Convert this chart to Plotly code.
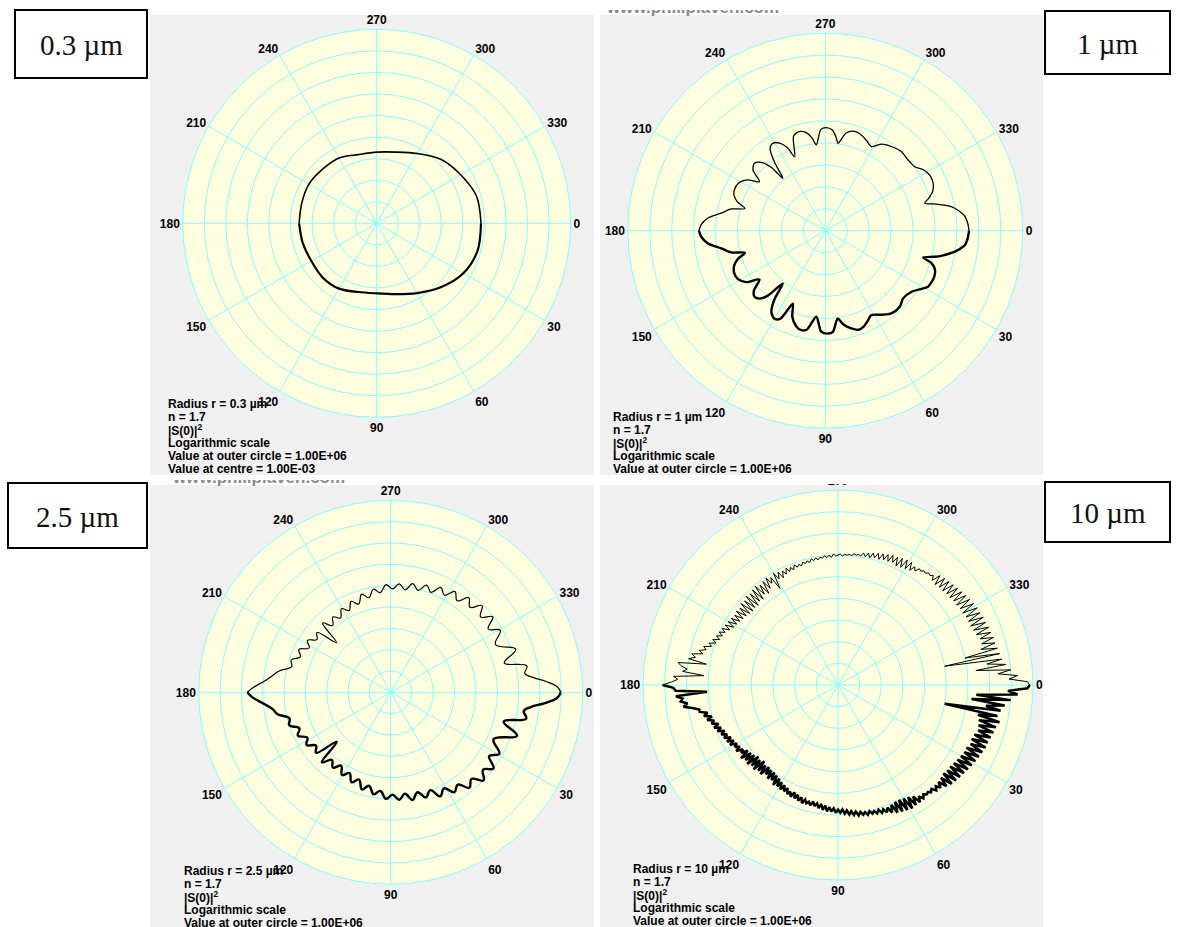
import plotly.graph_objects as go

W, H = 1179, 927

# ---------------------------------------------------------------------------
# Data: log10 |S(theta)|^2, radial scale from 1E-03 (centre) to 1E+06 (outer).
# Perpendicular half runs 0 -> 180 deg through 90 (lower half),
# parallel half runs 180 -> 360 deg through 270 (upper half).
# ---------------------------------------------------------------------------
ANGLE_TICKS = [0, 30, 60, 90, 120, 150, 180, 210, 240, 270, 300, 330]
RING_TICKS = [-3, -2, -1, 0, 1, 2, 3, 4, 5, 6]

# r = 0.3 um
R03_PERP_THETA = [0, 15, 30, 45, 60, 75, 90, 105, 120, 135, 150, 165, 180]
R03_PERP_LOG = [1.84, 1.85, 1.64, 1.2, 0.74, 0.4, 0.25, 0.3, 0.5, 0.55, 0.5, 0.55, 0.6]
R03_PAR_THETA = [180, 195, 210, 225, 240, 255, 270, 285, 300, 315, 330, 345, 360]
R03_PAR_LOG = [0.6, 0.6, 0.63, 0.55, 0.5, 0.3, 0.3, 0.42, 0.74, 1.2, 1.5, 1.8, 1.84]

# r = 1 um
R1_PERP_THETA = [0, 3, 6, 8, 10, 12, 13.4, 15.3, 17, 19.5, 23, 26, 28.6, 31.5, 35, 41,
                 45.6, 51.4, 56, 61.4, 65, 68, 71.5, 75, 79, 82, 85.7, 88.5, 92.3, 96,
                 100.5, 103.6, 107, 111, 114, 117, 120, 123.5, 126.5, 128.8, 131.5, 134,
                 137, 140, 143.5, 147, 151, 155, 159, 162, 164.6, 167, 170.4, 173.8,
                 177.2, 180]
R1_PERP_LOG = [3.55, 3.5, 3.39, 3.15, 2.84, 2.45, 2.12, 1.62, 2.06, 2.3, 2.39, 2.38,
               2.33, 2.1, 1.83, 1.7, 1.85, 1.82, 1.62, 1.38, 1.55, 1.7, 1.76, 1.61,
               1.35, 1.05, 1.62, 1.69, 1.6, 0.94, 1.58, 1.66, 1.55, 1.2, 0.64, 1.5,
               1.63, 1.45, 0.9, 0.09, 0.95, 1.3, 1.41, 1.25, 0.73, 1.3, 1.55, 1.58,
               1.45, 1.2, 0.8, 1.4, 1.81, 2.38, 2.66, 2.76]
R1_PAR_THETA = [180, 182.8, 186.2, 189.6, 193, 195.4, 198, 201, 204, 209, 213, 216.7,
                220, 223.6, 227, 229.5, 231, 233.5, 236, 239, 242.5, 245.5, 247.5,
                251.5, 255.5, 259, 262, 264, 267.5, 270.5, 274, 276.5, 278.3, 282,
                286.5, 291, 295, 298.7, 303, 308, 314, 319.5, 324.4, 328, 330.8, 333.5,
                336.3, 340, 342.5, 344.6, 346.5, 349.2, 351.5, 354, 357, 360]
R1_PAR_LOG = [2.76, 2.66, 2.38, 1.81, 1.4, 0.8, 1.2, 1.45, 1.54, 1.5, 1.25, 0.74,
              1.3, 1.46, 1.25, 0.8, 0.07, 0.9, 1.5, 1.65, 1.5, 1.15, 0.65,
              1.55, 1.67, 1.55, 1.25, 0.93, 1.62, 1.7, 1.6, 1.3, 1.03, 1.55,
              1.72, 1.65, 1.5, 1.37, 1.7, 1.87, 2.0, 1.96, 2.01, 2.25, 2.36, 2.4,
              2.37, 2.2, 1.95, 1.7, 2.2, 2.85, 3.15, 3.39, 3.5, 3.55]

# r = 2.5 um
R25_PERP_THETA = [0, 2, 4, 6, 8, 11, 14.5, 19, 24.5, 29.5, 33, 36.5, 40, 43.5, 47, 50.5,
                  54, 57.5, 61, 64.5, 68, 71.5, 75, 78.5, 82, 85.5, 89, 92.5, 96, 99.5,
                  103, 106.5, 110, 113.5, 117, 120.5, 124, 127.5, 131, 134.5, 137.5, 141,
                  144.5, 148, 151.5, 155, 158.5, 162, 165.5, 169, 172, 175, 178, 180]
R25_PERP_LOG = [4.97, 4.8, 4.25, 3.6, 3.3, 3.47, 2.47, 3.26, 2.3, 2.85, 2.5, 3.0, 2.65,
                3.0, 2.55, 2.8, 2.35, 2.55, 2.15, 2.4, 1.95, 2.2, 1.85, 2.15, 1.8, 2.05,
                1.8, 2.0, 1.65, 1.85, 1.5, 1.75, 1.35, 1.6, 1.25, 1.5, 1.15, 1.45, 1.2,
                1.6, 0.43, 1.5, 1.3, 1.65, 1.45, 1.8, 1.6, 2.0, 1.9, 2.4, 2.6, 3.0, 3.5,
                3.72]
R25_PAR_THETA = [180, 182, 185, 188, 191, 194.5, 198, 201.5, 205, 208.5, 212, 215.5, 219,
                 222.5, 225.5, 229, 232.5, 236, 239.5, 243, 246.5, 250, 253.5, 257,
                 260.5, 264, 267.5, 271, 274.5, 278, 281.5, 285, 288.5, 292, 295.5, 299,
                 302.5, 306, 309.5, 313, 316.5, 320, 323.5, 327, 330.5, 335.5, 341,
                 345.5, 349, 352, 354, 356, 358, 360]
R25_PAR_LOG = [3.72, 3.45, 2.95, 2.6, 2.3, 1.8, 1.9, 1.55, 1.75, 1.35, 1.6, 1.25, 1.45,
               0.45, 1.55, 1.15, 1.45, 1.2, 1.55, 1.3, 1.65, 1.4, 1.8, 1.55, 1.9, 1.7,
               2.05, 1.85, 2.1, 1.85, 2.2, 1.95, 2.3, 2.05, 2.45, 2.2, 2.6, 2.3, 2.75,
               2.45, 2.9, 2.5, 2.95, 2.45, 2.9, 2.4, 3.2, 2.5, 3.5, 3.35, 3.7, 4.3, 4.8,
               4.97]

# r = 10 um, one value per degree
R10_PERP_THETA = list(range(0, 181))
R10_PERP_LOG = [
    5.85, 5.75, 4.85, 5.3, 3.4, 5.0, 3.2, 4.75, 3.9, 4.6,
    2.0, 4.5, 3.6, 4.65, 3.7, 4.55, 3.75, 4.5, 3.8, 4.45,
    3.7, 4.4, 3.65, 4.4, 3.7, 4.35, 3.6, 4.3, 3.6, 4.25,
    3.55, 4.2, 3.5, 4.15, 3.45, 4.1, 3.4, 4.05, 3.4, 4.0,
    3.35, 3.95, 3.4, 3.85, 3.45, 3.7, 3.5, 3.65, 3.45, 3.55,
    3.45, 3.5, 3.4, 3.55, 3.35, 3.6, 3.2, 3.6, 3.1, 3.65,
    3.05, 3.6, 3.0, 3.55, 3.0, 3.5, 3.05, 3.4, 3.1, 3.3,
    3.1, 3.25, 3.05, 3.2, 3.05, 3.15, 3.0, 3.15, 3.0, 3.1,
    2.95, 3.1, 2.9, 3.05, 2.85, 3.0, 2.8, 2.95, 2.75, 2.9,
    2.75, 2.9, 2.7, 2.85, 2.65, 2.85, 2.6, 2.8, 2.55, 2.75,
    2.55, 2.7, 2.5, 2.7, 2.55, 2.65, 2.5, 2.7, 2.45, 2.65,
    2.4, 2.6, 2.35, 2.6, 2.4, 2.55, 2.3, 2.5, 2.25, 2.5,
    2.2, 2.45, 2.1, 2.5, 2.05, 2.35, 2.0, 2.4, 2.0, 2.3,
    1.95, 2.45, 2.0, 2.4, 1.9, 2.5, 2.0, 2.45, 1.95, 2.55,
    2.05, 2.5, 2.1, 2.6, 2.15, 2.45, 2.3, 2.6, 2.35, 2.55,
    2.4, 2.7, 2.45, 2.75, 2.5, 2.8, 2.6, 2.85, 2.65, 2.95,
    2.75, 3.05, 2.8, 3.1, 2.95, 3.25, 3.0, 3.35, 3.15, 3.5,
    3.5, 3.8, 4.2, 4.0, 4.3, 4.2, 4.5, 3.05, 4.5, 4.6,
    5.1,
]
R10_PAR_THETA = list(range(180, 361))
R10_PAR_LOG = [
    5.1, 4.7, 4.4, 4.6, 3.2, 4.2, 4.0, 4.3, 4.45, 3.15,
    4.0, 3.7, 3.9, 3.4, 3.6, 3.3, 3.45, 3.1, 3.25, 2.95,
    3.15, 2.85, 3.05, 2.8, 3.0, 2.75, 2.95, 2.6, 2.9, 2.5,
    2.85, 2.45, 2.8, 2.4, 2.75, 2.35, 2.8, 2.3, 2.75, 2.25,
    2.85, 2.2, 2.8, 2.25, 2.9, 2.2, 2.85, 2.3, 2.9, 2.25,
    2.95, 2.4, 2.85, 2.3, 2.9, 2.45, 2.95, 2.6, 2.85, 2.2,
    2.95, 2.6, 2.9, 2.55, 2.85, 2.65, 2.9, 2.7, 2.85, 2.7,
    2.9, 2.75, 2.85, 2.75, 2.9, 2.8, 2.9, 2.8, 2.95, 2.85,
    2.95, 2.85, 2.95, 2.9, 3.0, 2.9, 3.0, 2.9, 3.05, 2.95,
    3.0, 3.05, 2.95, 3.05, 3.0, 3.05, 3.0, 3.1, 3.05, 3.1,
    3.05, 3.2, 3.05, 3.25, 3.05, 3.3, 3.1, 3.35, 3.1, 3.4,
    3.15, 3.45, 3.15, 3.5, 3.2, 3.5, 3.1, 3.55, 3.15, 3.6,
    3.2, 3.6, 3.25, 3.5, 3.35, 3.55, 3.5, 3.6, 3.55, 3.65,
    3.6, 3.7, 3.5, 3.9, 3.45, 3.95, 3.5, 4.0, 3.5, 4.05,
    3.55, 4.1, 3.55, 4.15, 3.6, 4.2, 3.6, 4.25, 3.65, 4.3,
    3.65, 4.35, 3.7, 4.35, 3.7, 4.4, 3.7, 4.4, 3.75, 4.45,
    3.8, 4.45, 3.9, 4.5, 3.9, 4.5, 3.8, 4.55, 3.0, 4.6,
    2.0, 4.65, 3.95, 4.8, 3.4, 5.0, 4.4, 5.3, 4.9, 5.75,
    5.85,
]

SIZE_LABELS = ["0.3 \u00b5m", "1 \u00b5m", "2.5 \u00b5m", "10 \u00b5m"]
RADIUS_TEXT = ["0.3", "1", "2.5", "10"]
REFRACTIVE_INDEX = "1.7"
OUTER_VALUE = "1.00E+06"
CENTRE_VALUE = "1.00E-03"
SITE = "www.philiplaven.com"

# ---------------------------------------------------------------------------
# Page geometry (pixels, origin top-left)
# ---------------------------------------------------------------------------
GREY = "#F0F0F0"
DISC = "#FFFFE0"
GRID = "#80FFFF"

panels = [
    dict(cx=376.7, cy=223.3, R=194.0, bg=(150, 15, 594, 475), info=(166, 469), centre=True,
         box=(15, 10, 147, 78), perp=(R03_PERP_THETA, R03_PERP_LOG),
         par=(R03_PAR_THETA, R03_PAR_LOG), shape="spline", smooth=0.9, wl=2.2, wu=1.6),
    dict(cx=825.3, cy=230.7, R=197.5, bg=(600, 15, 1043, 475), info=(611, 469), centre=False,
         box=(1045, 11, 1170, 74), perp=(R1_PERP_THETA, R1_PERP_LOG),
         par=(R1_PAR_THETA, R1_PAR_LOG), shape="spline", smooth=0.8, wl=2.4, wu=1.3),
    dict(cx=390.7, cy=692.3, R=192.0, bg=(150, 485, 594, 927), info=(182, 923), centre=False,
         box=(8, 483, 147, 548), perp=(R25_PERP_THETA, R25_PERP_LOG),
         par=(R25_PAR_THETA, R25_PAR_LOG), shape="spline", smooth=1.2, wl=2.4, wu=1.2),
    dict(cx=838.0, cy=685.0, R=195.0, bg=(600, 485, 1043, 927), info=(631, 921), centre=False,
         box=(1045, 482, 1170, 542), perp=(R10_PERP_THETA, R10_PERP_LOG),
         par=(R10_PAR_THETA, R10_PAR_LOG), shape="linear", smooth=1.0, wl=2.5, wu=1.0),
]


def px(x):
    return x / W


def py(y):
    return 1 - y / H


fig = go.Figure()
shapes = []
annotations = []
layout_polars = {}

for i, p in enumerate(panels):
    key = "polar" if i == 0 else f"polar{i + 1}"
    cx, cy, R = p["cx"], p["cy"], p["R"]
    layout_polars[key] = dict(
        domain=dict(x=[px(cx - R), px(cx + R)], y=[py(cy + R), py(cy - R)]),
        bgcolor=DISC,
        radialaxis=dict(
            range=[-3, 6], tickvals=RING_TICKS, showticklabels=False, ticks="",
            showline=False, gridcolor=GRID, gridwidth=1,
        ),
        angularaxis=dict(
            direction="clockwise", rotation=0, tickvals=ANGLE_TICKS,
            ticktext=[str(a) for a in ANGLE_TICKS], ticks="",
            tickfont=dict(family="Liberation Sans", size=12, color="#000", weight="bold"),
            showline=True, linecolor=GRID, linewidth=1, gridcolor=GRID, gridwidth=1,
        ),
    )

    x0, y0, x1, y1 = p["bg"]
    shapes.append(dict(type="rect", xref="paper", yref="paper", x0=px(x0), x1=px(x1),
                       y0=py(y1), y1=py(y0), fillcolor=GREY, line=dict(width=0),
                       layer="below"))

    for (theta, vals), width in ((p["perp"], p["wl"]), (p["par"], p["wu"])):
        fig.add_trace(go.Scatterpolar(
            theta=theta, r=vals, mode="lines", subplot=key,
            line=dict(color="#000", width=width, shape=p["shape"], smoothing=p["smooth"]),
            hoverinfo="skip", showlegend=False,
        ))

    # size label box
    bx0, by0, bx1, by1 = p["box"]
    shapes.append(dict(type="rect", xref="paper", yref="paper", x0=px(bx0), x1=px(bx1),
                       y0=py(by1), y1=py(by0), fillcolor="white",
                       line=dict(color="#000", width=2), layer="above"))
    annotations.append(dict(text=SIZE_LABELS[i], xref="paper", yref="paper",
                            x=px((bx0 + bx1) / 2), y=py((by0 + by1) / 2 + 1),
                            xanchor="center", yanchor="middle", showarrow=False,
                            font=dict(family="Liberation Serif", size=29, color="#111")))

    # information lines, bottom-aligned
    lines = [f"Radius r = {RADIUS_TEXT[i]} \u00b5m", f"n = {REFRACTIVE_INDEX}",
             "|S(0)|<sup>2</sup>", "Logarithmic scale",
             f"Value at outer circle = {OUTER_VALUE}"]
    if p["centre"]:
        lines.append(f"Value at centre = {CENTRE_VALUE}")
    ix, iy = p["info"]
    for k, line in enumerate(lines):
        yc = iy - 13 * (len(lines) - 1 - k)
        annotations.append(dict(text=line, xref="paper", yref="paper", x=px(ix), y=py(yc),
                                xanchor="left", yanchor="middle", showarrow=False,
                                font=dict(family="Liberation Sans", size=12, color="#000",
                                          weight="bold")))

# white strip hiding what spills between the two rows
shapes.append(dict(type="rect", xref="paper", yref="paper", x0=px(598), x1=px(1044),
                   y0=py(484), y1=py(475), fillcolor="white", line=dict(width=0),
                   layer="above"))

# web address along the clipped top edge of two panels (pixel axes, clipped to strip)
site_font = dict(family="Liberation Sans", size=17, color="#8a8a8a", weight="bold")
fig.add_trace(go.Scatter(x=[693], y=[9], mode="text", text=[SITE], textfont=site_font,
                         cliponaxis=True, hoverinfo="skip", showlegend=False,
                         xaxis="x", yaxis="y"))
fig.add_trace(go.Scatter(x=[259], y=[479], mode="text", text=[SITE], textfont=site_font,
                         cliponaxis=True, hoverinfo="skip", showlegend=False,
                         xaxis="x2", yaxis="y2"))
hidden = dict(visible=False, showgrid=False, zeroline=False, fixedrange=True)

fig.update_layout(
    width=W, height=H, margin=dict(l=0, r=0, t=0, b=0),
    paper_bgcolor="white", plot_bgcolor="rgba(0,0,0,0)",
    shapes=shapes, annotations=annotations, showlegend=False,
    xaxis=dict(domain=[0, 1], range=[0, W], **hidden),
    yaxis=dict(domain=[py(475), py(10)], range=[475, 10], **hidden),
    xaxis2=dict(domain=[0, 1], range=[0, W], **hidden),
    yaxis2=dict(domain=[0, py(480)], range=[927, 480], **hidden),
    **layout_polars,
)

fig.write_html("out.html")
